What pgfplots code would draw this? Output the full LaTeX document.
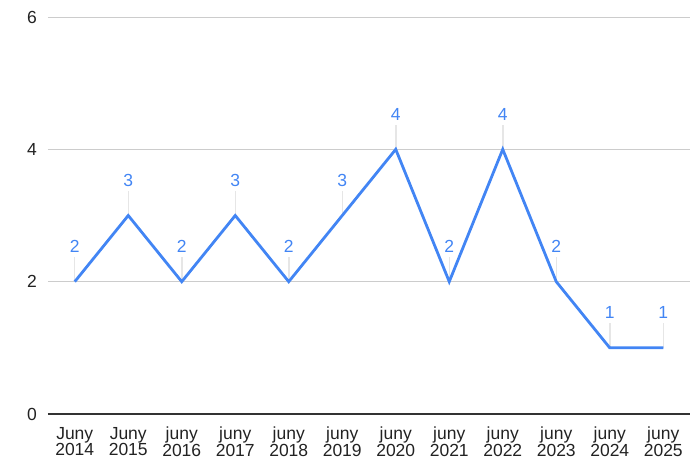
\documentclass[border=0pt]{standalone}
\usepackage{pgfplots}
\pgfplotsset{compat=1.18}
\usepackage{fontspec}
\setmainfont{Liberation Sans}
\definecolor{gblue}{HTML}{4285F4}
\definecolor{gridc}{HTML}{CCCCCC}
\definecolor{axisc}{HTML}{333333}
\definecolor{leader}{HTML}{E6E6E6}
\definecolor{txt}{HTML}{222222}
\begin{document}
\begin{tikzpicture}
\begin{axis}[
  name=ax,
  scale only axis,
  width=642pt, height=397pt,
  xmin=-0.5, xmax=11.5,
  ymin=0, ymax=6,
  ytick={0,2,4,6},
  xtick={0,...,11},
  xticklabels={Juny\\2014,Juny\\2015,juny\\2016,juny\\2017,juny\\2018,juny\\2019,juny\\2020,juny\\2021,juny\\2022,juny\\2023,juny\\2024,juny\\2025},
  xticklabel style={align=center, font=\fontsize{17.5}{16.5}\selectfont, text=txt, inner sep=0pt, yshift=-13pt},
  yticklabel style={font=\fontsize{17.5}{18}\selectfont, text=txt, inner sep=0pt, xshift=-11pt},
  /pgf/number format/assume math mode=true,
  major tick length=0pt,
  axis line style={draw=none},
  ymajorgrids,
  grid style={gridc, line width=1pt},
  extra y ticks={0},
  extra y tick labels={},
  extra y tick style={grid style={axisc, line width=1.3pt}},
  clip=false,
]
\addplot[forget plot, draw=none, mark=none,
  error bars/.cd, y dir=plus, y fixed=0.375, error mark=none,
  error bar style={draw=leader, line width=1.5pt}]
  coordinates {(0,2) (1,3) (2,2) (3,3) (4,2) (5,3) (6,4) (7,2) (8,4) (9,2) (10,1) (11,1)};
\addplot[gblue, line width=2.8pt, mark=none,
  nodes near coords,
  every node near coord/.append style={font=\fontsize{17.5}{18}\selectfont, text=gblue, anchor=south, inner sep=0pt, yshift=27.5pt}]
  coordinates {(0,2) (1,3) (2,2) (3,3) (4,2) (5,3) (6,4) (7,2) (8,4) (9,2) (10,1) (11,1)};
\end{axis}
\pgfresetboundingbox
\path ([xshift=-48pt,yshift=-51pt]ax.south west) rectangle ([xshift=650pt,yshift=414pt]ax.south west);
\end{tikzpicture}
\end{document}
